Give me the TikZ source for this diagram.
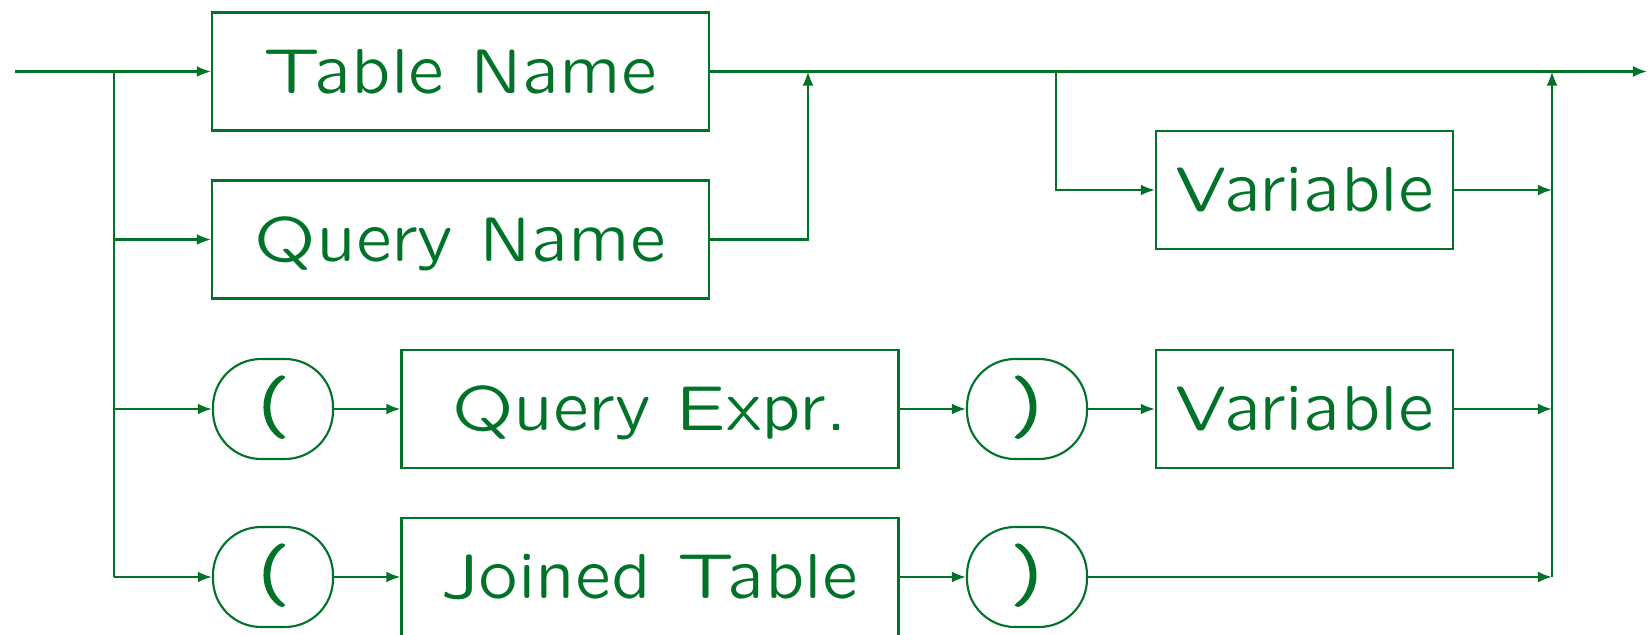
\documentclass[tikz,border=0pt]{standalone}
\usepackage{tikz}
\usetikzlibrary{arrows.meta}

\definecolor{syngreen}{RGB}{0,115,40}
\DeclareFontFamily{OT1}{synss}{}
\DeclareFontShape{OT1}{synss}{m}{n}{<-> lcmss8}{}
\newcommand{\synfont}{\fontencoding{OT1}\fontfamily{synss}\fontseries{m}\fontshape{n}\fontsize{18.1pt}{22pt}\selectfont}
\newcommand{\klammer}[1]{\special{pdf:literal direct 2 Tr 0.5 w}#1\special{pdf:literal direct 0 Tr}}

\begin{document}
\begin{tikzpicture}[>={Latex[length=4pt,width=3.1pt]}, syngreen, line width=0.6pt,
    kasten/.style={draw, rectangle, inner sep=0pt, minimum width=4.97cm, minimum height=1.18cm,
        text height=17pt, text depth=4.7pt, font=\synfont},
    kleinkasten/.style={kasten, minimum width=2.97cm},
    rund/.style={draw, rectangle, rounded corners=0.48cm, inner sep=0pt, minimum width=1.2cm,
        minimum height=1.0cm, text height=13.6pt, text depth=4.6pt, font=\synfont}]

\useasboundingbox (0,0) rectangle (16.48,-6.35);

% Verzweigungspunkte
\coordinate (start) at (0.15,-0.715);
\coordinate (links) at (1.14,-0.715);
\coordinate (mitte) at (8.08,-0.715);
\coordinate (abzweig) at (10.56,-0.715);
\coordinate (rechts) at (15.52,-0.715);
\coordinate (ende) at (16.47,-0.715);

% Kaesten
\node[kasten] (tname) at (4.605,-0.715) {Table Name};
\node[kasten] (qname) at (4.605,-2.395) {Query Name};
\node[kleinkasten] (var1) at (13.045,-1.90) {Variable};

\node[rund] (klauf1) at (2.73,-4.09) {\klammer{(}};
\node[kasten] (qexpr) at (6.50,-4.09) {Query Expr.};
\node[rund] (klzu1) at (10.27,-4.09) {\klammer{)}};
\node[kleinkasten] (var2) at (13.045,-4.09) {Variable};

\node[rund] (klauf2) at (2.73,-5.77) {\klammer{(}};
\node[kasten] (jtable) at (6.50,-5.77) {Joined Table};
\node[rund] (klzu2) at (10.27,-5.77) {\klammer{)}};

% Hauptlinie
\draw (start) -- (links);
\draw[->] (links) -- (tname);
\draw[->] (tname) -- (ende);

% linke Verzweigung
\draw (links) -- (links |- klauf2);
\draw[->] (links |- qname) -- (qname);
\draw[->] (links |- klauf1) -- (klauf1);
\draw[->] (links |- klauf2) -- (klauf2);
\draw[->] (qname) -| (mitte);

% obere Variable
\draw[->] (abzweig) |- (var1);
\draw[->] (var1) -- (var1 -| rechts);

% Klammerzweige
\draw[->] (klauf1) -- (qexpr);
\draw[->] (qexpr) -- (klzu1);
\draw[->] (klzu1) -- (var2);
\draw[->] (var2) -- (var2 -| rechts);

\draw[->] (klauf2) -- (jtable);
\draw[->] (jtable) -- (klzu2);
\draw[->] (klzu2) -- (klzu2 -| rechts);

% rechte Sammellinie
\draw[->] (rechts |- klzu2) -- (rechts);

\end{tikzpicture}
\end{document}
